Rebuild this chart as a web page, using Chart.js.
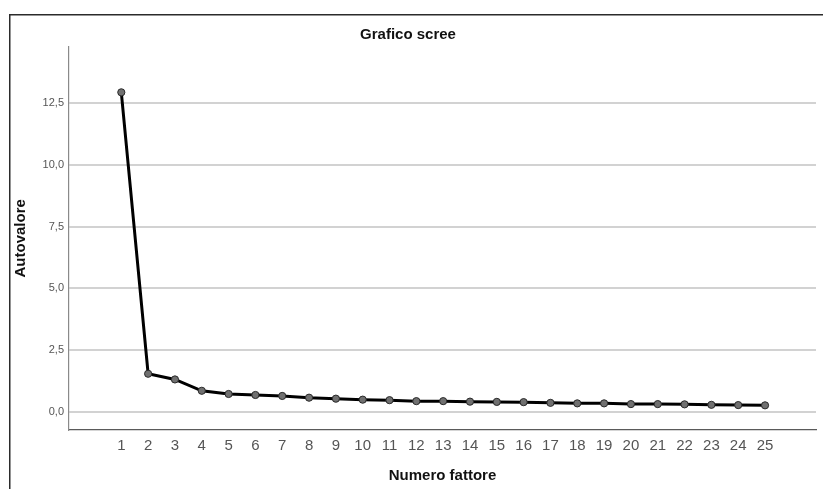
<!DOCTYPE html>
<html lang="it">
<head>
<meta charset="utf-8">
<title>Grafico scree</title>
<script src="https://cdn.jsdelivr.net/npm/chart.js@4.4.1/dist/chart.umd.min.js"></script>
<style>
    html, body { margin: 0; padding: 0; background: #fff; }
    #contenitore { width: 823px; height: 489px; position: relative; }
</style>
</head>
<body>
<div id="contenitore"><canvas id="grafico-scree"></canvas></div>
<script>
// Dati
const fattori = [1, 2, 3, 4, 5, 6, 7, 8, 9, 10, 11, 12, 13, 14, 15, 16, 17, 18, 19, 20, 21, 22, 23, 24, 25];
const autovalori = [12.95, 1.54, 1.31, 0.85, 0.72, 0.68, 0.64, 0.57, 0.53, 0.49, 0.47, 0.43, 0.43, 0.41, 0.40,
    0.39, 0.36, 0.34, 0.34, 0.31, 0.31, 0.30, 0.28, 0.27, 0.26];
const tickY = [0, 2.5, 5, 7.5, 10, 12.5];

const config = {
    font: "'Liberation Sans', Arial, sans-serif",
    colori: {
        linea: '#000000',
        punto: '#707070',
        bordoPunto: '#2a2a2a',
        griglia: '#d2d2d2',
        asseY: '#8a8a8a',
        asseX: '#5a5a5a',
        testo: '#111111',
        tick: '#555555'
    }
};

// Cornice esterna come nell'output di SPSS
const cornice = {
    id: 'cornice',
    beforeDraw(chart) {
        const ctx = chart.ctx;
        ctx.save();
        ctx.fillStyle = '#ffffff';
        ctx.fillRect(0, 0, chart.width, chart.height);
        ctx.strokeStyle = '#2b2b2b';
        ctx.lineWidth = 1.5;
        ctx.strokeRect(9.75, 14.75, chart.width + 20, chart.height + 20);
        ctx.restore();
    }
};

function formatoVirgola(v) {
    return v.toFixed(1).replace('.', ',');
}

const ctx = document.getElementById('grafico-scree').getContext('2d');

new Chart(ctx, {
    type: 'line',
    data: {
        datasets: [{
            label: 'Autovalore',
            data: fattori.map((f, i) => ({ x: f, y: autovalori[i] })),
            borderColor: config.colori.linea,
            borderWidth: 3,
            tension: 0,
            pointRadius: 3.6,
            pointBackgroundColor: config.colori.punto,
            pointBorderColor: config.colori.bordoPunto,
            pointBorderWidth: 1,
            fill: false
        }]
    },
    options: {
        responsive: true,
        maintainAspectRatio: false,
        animation: false,
        layout: { padding: { left: 0, right: 7, top: 0, bottom: 0 } },
        plugins: {
            legend: { display: false },
            tooltip: { enabled: false },
            title: {
                display: true,
                text: 'Grafico scree',
                color: config.colori.testo,
                font: { family: config.font, size: 15, weight: 'bold' },
                padding: { top: 26, bottom: 2.7 }
            }
        },
        scales: {
            x: {
                type: 'linear',
                min: -0.95,
                max: 26.9,
                afterFit: scale => { scale.height = 59; },
                afterBuildTicks: scale => {
                    scale.ticks = fattori.map(f => ({ value: f }));
                },
                grid: { display: false, drawTicks: false },
                border: { display: true, color: config.colori.asseX, width: 1.2 },
                ticks: {
                    autoSkip: false,
                    maxRotation: 0,
                    padding: 7,
                    color: config.colori.tick,
                    font: { family: config.font, size: 15 },
                    callback: v => String(v)
                },
                title: {
                    display: true,
                    text: 'Numero fattore',
                    color: config.colori.testo,
                    font: { family: config.font, size: 15, weight: 'bold' },
                    padding: { top: 0, bottom: 4 }
                }
            },
            y: {
                min: -0.74,
                max: 14.8,
                afterFit: scale => { scale.width = 69; },
                afterBuildTicks: scale => {
                    scale.ticks = tickY.map(v => ({ value: v }));
                },
                grid: { color: config.colori.griglia, lineWidth: 2, drawTicks: false },
                border: { display: true, color: config.colori.asseY, width: 1.2 },
                ticks: {
                    padding: 5,
                    color: config.colori.tick,
                    font: { family: config.font, size: 11 },
                    callback: v => formatoVirgola(v)
                },
                title: {
                    display: true,
                    text: 'Autovalore',
                    color: config.colori.testo,
                    font: { family: config.font, size: 15, weight: 'bold' },
                    padding: { top: 12, bottom: 0 }
                }
            }
        }
    },
    plugins: [cornice]
});
</script>
</body>
</html>
